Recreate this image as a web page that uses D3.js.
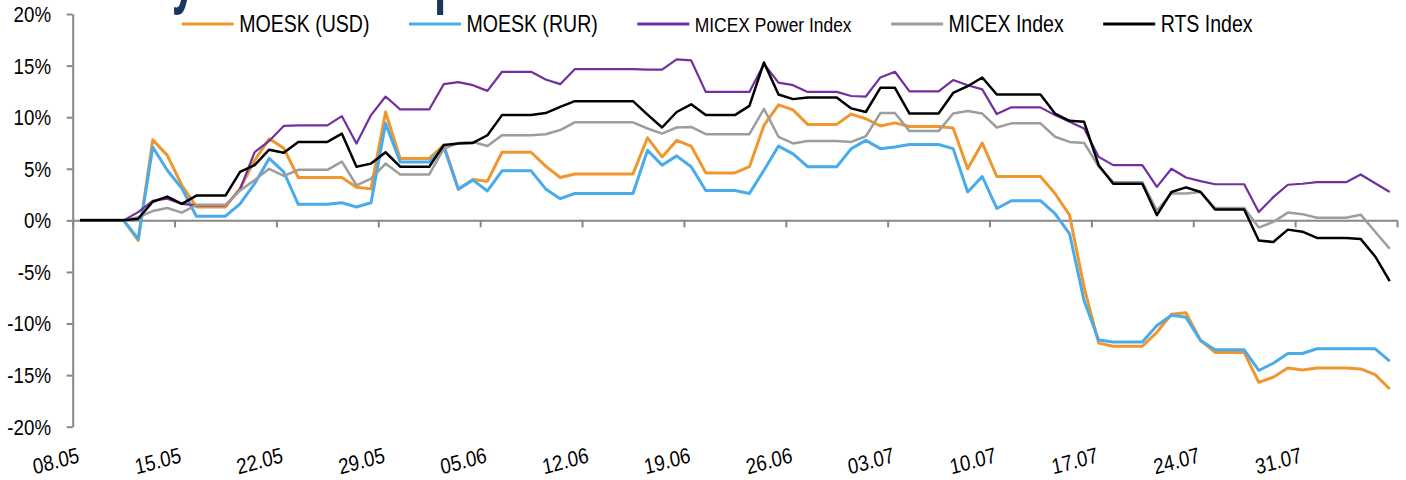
<!DOCTYPE html>
<html>
<head>
<meta charset="utf-8">
<script src="https://cdn.jsdelivr.net/npm/d3@7"></script>
<style>
  body { margin: 0; background: #fff; }
  svg { display: block; font-family: "Liberation Sans", Arial, sans-serif; }
</style>
</head>
<body>
<svg width="1406" height="480"></svg>
<script>
// ---- data (daily, % change since 08.05) ----
const firstDay = "08.05.2008";
const lastDay = "07.08.2008";   // axis end (exclusive)
const tickLabels = ["08.05","15.05","22.05","29.05","05.06","12.06","19.06","26.06","03.07","10.07","17.07","24.07","31.07",""];
const yTicks = [-20, -15, -10, -5, 0, 5, 10, 15, 20];

const seriesNames = ["MOESK (USD)", "MOESK (RUR)", "MICEX Power Index", "MICEX Index", "RTS Index"];
const seriesColors = ["#F0962F", "#48ABEA", "#7030A0", "#9D9D9D", "#000000"];

const moeskUsd = [0,0,0,0,-1.95,7.8,6.3,3.4,1.3,1.3,1.3,
  3.1,5.8,7.9,7.0,4.15,4.15,4.15,4.15,3.2,3.05,
  10.5,6.0,6.0,6.0,7.3,3.0,3.95,3.8,6.6,6.6,
  6.6,5.25,4.15,4.5,4.5,4.5,4.5,4.5,8.0,6.15,
  7.75,7.2,4.6,4.6,4.6,5.2,9.2,11.2,10.7,9.3,
  9.3,9.3,10.3,9.85,9.15,9.45,9.1,9.1,9.1,8.95,
  5.0,7.5,4.25,4.25,4.25,4.25,2.6,0.5,-6.5,-11.9,
  -12.2,-12.2,-12.2,-10.85,-9.1,-8.95,-11.65,-12.8,-12.8,-12.8,
  -15.7,-15.2,-14.3,-14.5,-14.3,-14.3,-14.3,-14.4,-14.95,-16.35];

const moeskRur = [0,0,0,0,-1.8,7.1,4.85,3.1,0.4,0.4,0.4,
  1.6,3.55,6.0,4.7,1.55,1.55,1.55,1.7,1.3,1.7,
  9.4,5.65,5.65,5.65,7.1,3.05,3.9,2.85,4.8,4.8,
  4.8,3.05,2.1,2.6,2.6,2.6,2.6,2.6,6.8,5.35,
  6.25,5.2,2.9,2.9,2.9,2.6,4.85,7.2,6.45,5.2,
  5.2,5.2,6.95,7.75,6.95,7.1,7.35,7.35,7.35,6.95,
  2.75,4.25,1.15,1.9,1.9,1.9,0.65,-1.3,-7.8,-11.6,
  -11.8,-11.8,-11.8,-10.2,-9.2,-9.4,-11.65,-12.55,-12.55,-12.55,
  -14.55,-13.85,-12.9,-12.9,-12.45,-12.45,-12.45,-12.45,-12.45,-13.65];

const micexPower = [0,0,0,0,0.8,1.9,2.1,1.6,1.45,1.45,1.45,
  3.0,6.6,7.7,9.15,9.2,9.2,9.2,10.1,7.45,10.2,
  12.0,10.75,10.75,10.75,13.2,13.4,13.1,12.55,14.4,14.4,
  14.4,13.65,13.2,14.65,14.65,14.65,14.65,14.65,14.6,14.6,
  15.6,15.5,12.45,12.45,12.45,12.45,15.15,13.35,13.1,12.45,
  12.45,12.45,12.05,12.0,13.85,14.4,12.5,12.5,12.5,13.6,
  13.1,12.7,10.3,10.95,10.95,10.95,10.2,9.55,8.9,6.15,
  5.35,5.35,5.35,3.25,5.0,4.15,3.8,3.5,3.5,3.5,
  0.8,2.25,3.45,3.55,3.7,3.7,3.7,4.45,3.6,2.75];

const micex = [0,0,0,0,0.3,0.9,1.2,0.75,1.5,1.5,1.5,
  2.9,3.9,5.0,4.3,4.9,4.9,4.9,5.7,3.4,4.05,
  5.5,4.45,4.45,4.45,6.95,7.5,7.6,7.2,8.25,8.25,
  8.25,8.35,8.75,9.5,9.5,9.5,9.5,9.5,8.9,8.4,
  9.0,9.05,8.35,8.35,8.35,8.35,10.8,8.1,7.45,7.7,
  7.7,7.7,7.6,8.15,10.4,10.4,8.65,8.65,8.65,10.35,
  10.6,10.35,9.0,9.4,9.4,9.4,8.1,7.6,7.5,5.2,
  3.7,3.7,3.7,0.95,2.6,2.6,2.75,1.2,1.2,1.2,
  -0.7,-0.15,0.75,0.6,0.25,0.25,0.25,0.55,-1.1,-2.75];

const rts = [0,0,0,0,0.15,1.8,2.3,1.6,2.4,2.4,2.4,
  4.7,5.35,6.85,6.55,7.6,7.6,7.6,8.4,5.2,5.5,
  6.6,5.2,5.2,5.2,7.3,7.45,7.5,8.25,10.2,10.2,
  10.2,10.4,11.0,11.55,11.55,11.55,11.55,11.55,10.25,9.0,
  10.5,11.25,10.2,10.2,10.2,11.1,15.3,12.2,11.75,11.9,
  11.9,11.9,10.85,10.5,12.85,12.85,10.35,10.35,10.35,12.35,
  13.0,13.85,12.2,12.2,12.2,12.2,10.35,9.65,9.55,5.35,
  3.55,3.55,3.55,0.5,2.75,3.2,2.75,1.05,1.05,1.05,
  -1.95,-2.1,-0.9,-1.1,-1.7,-1.7,-1.7,-1.8,-3.5,-5.9];

const seriesValues = [moeskUsd, moeskRur, micexPower, micex, rts];

// ---- layout ----
const svg = d3.select("svg");
const axisColor = "#878787";
const textSx = 0.85;   // the original picture is squeezed horizontally
const margin = {left: 72.7, right: 9, top: 14, bottom: 53.3};
const W = 1406, H = 480;

const parseDay = d3.utcParse("%d.%m.%Y");
const start = parseDay(firstDay), end = parseDay(lastDay);
const days = d3.utcDay.range(start, end);
const tickDates = d3.utcDay.range(start, d3.utcDay.offset(end, 1), 7);

const x = d3.scaleUtc().domain([start, end]).range([margin.left, W - margin.right]);
const y = d3.scaleLinear().domain([-20, 20]).range([H - margin.bottom, margin.top]);
const xMid = d => x(d3.utcHour.offset(d, 12));

// title: the picture is cropped, only the descenders show at the top edge
svg.append("text")
  .attr("transform", `translate(140,-1) scale(0.58,1)`)
  .attr("font-size", 76)
  .attr("font-weight", "bold")
  .attr("fill", "#17375E")
  .text("Dynamics vs. peers");

// y axis
const yAxis = svg.append("g")
  .attr("transform", `translate(${margin.left},0)`)
  .call(d3.axisLeft(y).tickValues(yTicks).tickSize(6).tickSizeOuter(0).tickFormat(""));
yAxis.selectAll("path, line").attr("stroke", axisColor).attr("stroke-width", 2);

svg.append("g").selectAll("text").data(yTicks).enter().append("text")
  .attr("transform", d => `translate(51,${y(d)}) scale(${textSx},1)`)
  .attr("dy", "0.36em")
  .attr("text-anchor", "end")
  .attr("font-size", 22)
  .attr("fill", "#000")
  .text(d => d + "%");

// x axis at zero
const xAxis = svg.append("g")
  .attr("transform", `translate(0,${y(0)})`)
  .call(d3.axisBottom(x).tickValues(tickDates).tickSize(7).tickSizeOuter(0).tickFormat(""));
xAxis.selectAll("path, line").attr("stroke", axisColor).attr("stroke-width", 2);

svg.append("g").selectAll("text").data(tickDates).enter().append("text")
  .attr("transform", d => `translate(${x(d) + 7.5},462) scale(${textSx},1) rotate(-13)`)
  .attr("text-anchor", "end")
  .attr("font-size", 22)
  .attr("fill", "#000")
  .text((d, i) => tickLabels[i]);

// lines
const line = d3.line()
  .x((v, i) => xMid(days[i]))
  .y(v => y(v));

const widths = [3, 3, 2.2, 2.5, 2.5];
svg.append("g").selectAll("path").data(seriesValues).enter().append("path")
  .attr("d", line)
  .attr("fill", "none")
  .attr("stroke", (d, i) => seriesColors[i])
  .attr("stroke-width", (d, i) => widths[i])
  .attr("stroke-linejoin", "round");

// legend, laid out left to right
const legend = svg.append("g");
let lx = 181.7;
seriesNames.forEach((name, i) => {
  legend.append("line")
    .attr("x1", lx).attr("x2", lx + 52)
    .attr("y1", 24).attr("y2", 24)
    .attr("stroke", seriesColors[i])
    .attr("stroke-width", 3);
  const fs = name === "MICEX Power Index" ? 20.5 : 23;
  const t = legend.append("text")
    .attr("transform", `translate(${lx + 57.5},32.3) scale(${textSx},1)`)
    .attr("font-size", fs)
    .attr("fill", "#000")
    .text(name);
  lx += 57.5 + t.node().getComputedTextLength() * textSx + 39.5;
});
</script>
</body>
</html>
